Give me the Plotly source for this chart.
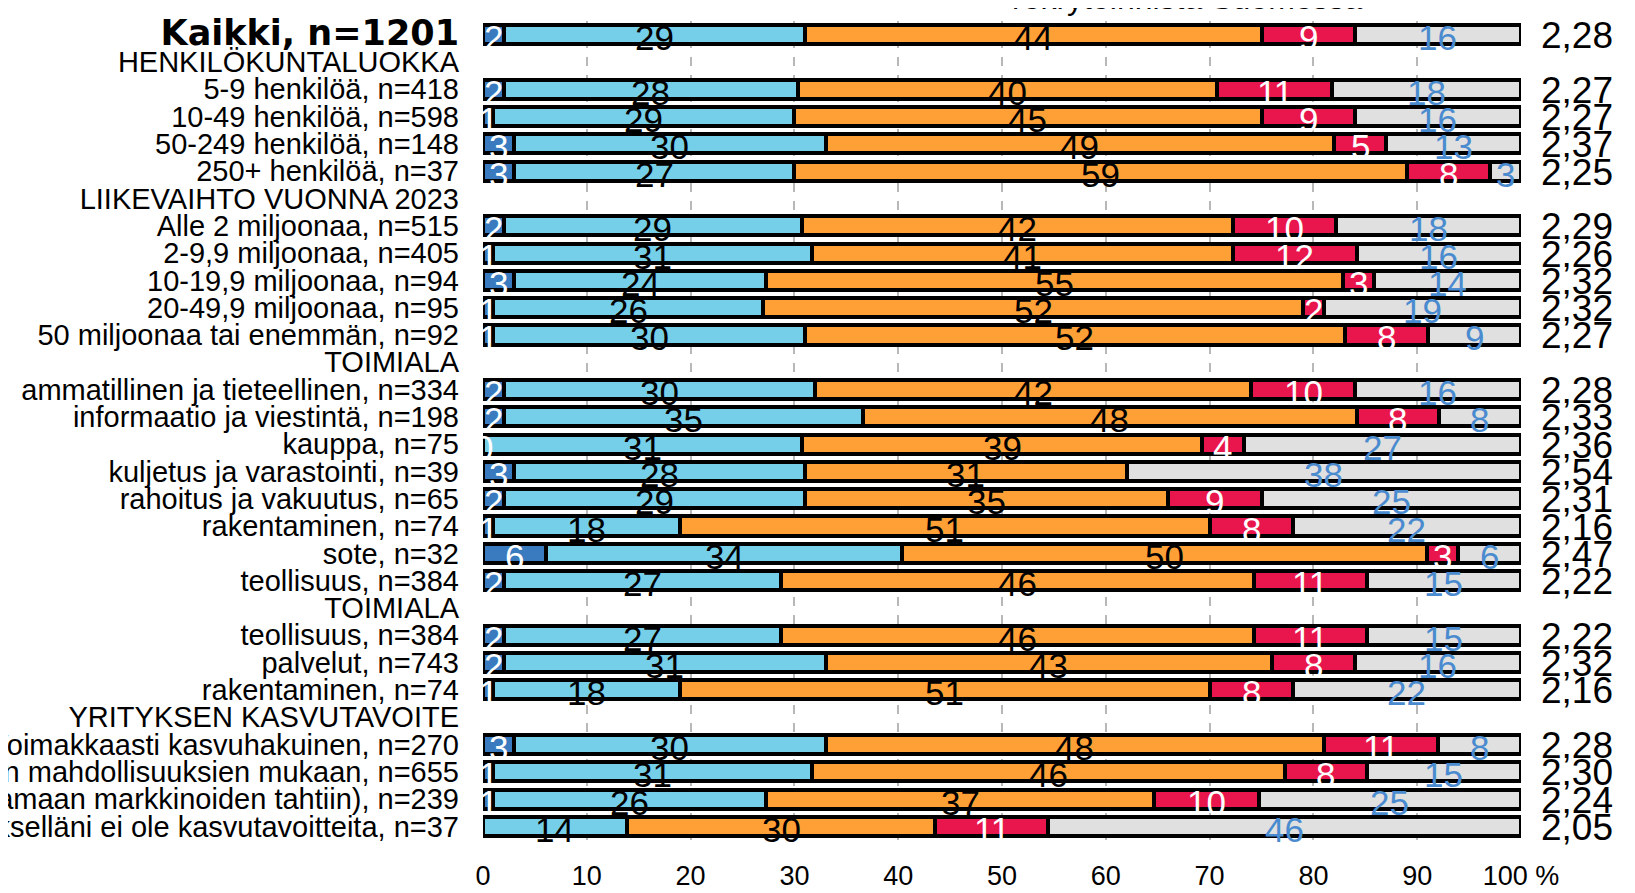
import plotly.graph_objects as go

# ---------------- data ----------------
row_labels = [
    "Kaikki, n=1201",
    "HENKILÖKUNTALUOKKA",
    "5-9 henkilöä, n=418",
    "10-49 henkilöä, n=598",
    "50-249 henkilöä, n=148",
    "250+ henkilöä, n=37",
    "LIIKEVAIHTO VUONNA 2023",
    "Alle 2 miljoonaa, n=515",
    "2-9,9 miljoonaa, n=405",
    "10-19,9 miljoonaa, n=94",
    "20-49,9 miljoonaa, n=95",
    "50 miljoonaa tai enemmän, n=92",
    "TOIMIALA",
    "ammatillinen ja tieteellinen, n=334",
    "informaatio ja viestintä, n=198",
    "kauppa, n=75",
    "kuljetus ja varastointi, n=39",
    "rahoitus ja vakuutus, n=65",
    "rakentaminen, n=74",
    "sote, n=32",
    "teollisuus, n=384",
    "TOIMIALA",
    "teollisuus, n=384",
    "palvelut, n=743",
    "rakentaminen, n=74",
    "YRITYKSEN KASVUTAVOITE",
    "Voimakkaasti kasvuhakuinen, n=270",
    "Kasvuhakuinen mahdollisuuksien mukaan, n=655",
    "Maltillinen kasvu (samaan markkinoiden tahtiin), n=239",
    "Yritykselläni ei ole kasvutavoitteita, n=37",
]

s1 = [2, None, 2, 1, 3, 3, None, 2, 1, 3, 1, 1, None, 2, 2, 0, 3, 2, 1, 6, 2, None, 2, 2, 1, None, 3, 1, 1, None]
s2 = [29, None, 28, 29, 30, 27, None, 29, 31, 24, 26, 30, None, 30, 35, 31, 28, 29, 18, 34, 27, None, 27, 31, 18, None, 30, 31, 26, 14]
s3 = [44, None, 40, 45, 49, 59, None, 42, 41, 55, 52, 52, None, 42, 48, 39, 31, 35, 51, 50, 46, None, 46, 43, 51, None, 48, 46, 37, 30]
s4 = [9, None, 11, 9, 5, 8, None, 10, 12, 3, 2, 8, None, 10, 8, 4, None, 9, 8, 3, 11, None, 11, 8, 8, None, 11, 8, 10, 11]
s5 = [16, None, 18, 16, 13, 3, None, 18, 16, 14, 19, 9, None, 16, 8, 27, 38, 25, 22, 6, 15, None, 15, 16, 22, None, 8, 15, 25, 46]
averages = ["2,28", None, "2,27", "2,27", "2,37", "2,25", None, "2,29", "2,26", "2,32", "2,32", "2,27", None,
            "2,28", "2,33", "2,36", "2,54", "2,31", "2,16", "2,47", "2,22", None, "2,22", "2,32", "2,16", None,
            "2,28", "2,30", "2,24", "2,05"]

x_ticks = [0, 10, 20, 30, 40, 50, 60, 70, 80, 90, 100]
x_ticktext = ["0", "10", "20", "30", "40", "50", "60", "70", "80", "90", "100 %"]

title_tail = "rekrytoinnista Suomessa"

# ---------------- styles ----------------
series = [s1, s2, s3, s4, s5]
colors = ["#3a7bbf", "#76cfe9", "#fea036", "#e8164c", "#e0e0e0"]
label_colors = ["white", "black", "black", "white", "#4a8bcf"]
REG = "Liberation Sans, Arial"

# figure is placed in a page with an 8px body margin
W, H = 1627, 885
L, R, T, B = 475, 114, 13, 53
plot_w = W - L - R
plot_h = H - T - B

rows = list(range(len(row_labels)))
is_data = [any(s[i] is not None for s in series) for i in rows]

fig = go.Figure()
for k, s in enumerate(series):
    ys = [i for i in rows if is_data[i]]
    xs = [(s[i] if s[i] is not None else 0) for i in ys]
    fig.add_trace(go.Bar(
        y=ys, x=xs, orientation="h", width=0.70,
        marker=dict(color=colors[k], line=dict(color="black", width=4)),
        showlegend=False, hoverinfo="skip",
    ))

annotations = []
for i in rows:
    if not is_data[i]:
        continue
    vals = [(s[i] if s[i] is not None else 0) for s in series]
    total = sum(vals)
    cum = 0
    for k, s in enumerate(series):
        v = vals[k]
        if s[i] is not None:
            mid = (cum + v / 2) / total * 100
            annotations.append(dict(
                x=mid, y=i, xref="x", yref="y", text=str(s[i]), showarrow=False,
                font=dict(family=REG, size=35, color=label_colors[k]),
                xanchor="center", yanchor="middle", yshift=-3,
            ))
        cum += v
    if averages[i] is not None:
        annotations.append(dict(
            x=100, y=i, xref="x", yref="y", text=averages[i], showarrow=False,
            font=dict(family=REG, size=37, color="black"),
            xanchor="left", yanchor="middle", xshift=18, yshift=-1,
        ))

annotations.append(dict(
    x=(1179 - L) / plot_w, y=1 + (T - 10) / plot_h, xref="paper", yref="paper",
    text=title_tail, showarrow=False, xanchor="center", yanchor="bottom",
    font=dict(family=REG, size=32, color="black"),
))

# partially visible bracket at the far left edge
annotations.append(dict(
    x=(1 - L) / plot_w, y=1 - (362 - T) / plot_h, xref="paper", yref="paper",
    text=")", showarrow=False, xanchor="right", yanchor="middle",
    font=dict(family=REG, size=66, color="black"),
))

ticktext = []
for i, t in enumerate(row_labels):
    if i == 0:
        ticktext.append('<span style="font-size:35px;font-family:DejaVu Sans"><b>' + t + '</b></span>')
    else:
        ticktext.append(t)

fig.update_layout(
    width=W, height=H,
    margin=dict(l=L, r=R, t=T, b=B, autoexpand=False),
    paper_bgcolor="white", plot_bgcolor="white",
    barmode="stack", barnorm="percent",
    xaxis=dict(
        range=[0, 100], tickvals=x_ticks, ticktext=x_ticktext,
        showgrid=True, gridcolor="#b8b8b8", gridwidth=1.5, griddash="dash",
        zeroline=False, showline=False, ticks="",
        tickfont=dict(family=REG, size=27, color="black"),
        ticklabelstandoff=17, fixedrange=True,
    ),
    yaxis=dict(
        range=[29.5, -0.5], tickvals=rows, ticktext=ticktext,
        showgrid=False, zeroline=False, showline=False, ticks="",
        tickfont=dict(family=REG, size=29, color="black"),
        ticklabelstandoff=23, automargin=False, fixedrange=True,
    ),
    annotations=annotations,
    font=dict(family=REG, color="black"),
)

fig.write_html("out.html")
